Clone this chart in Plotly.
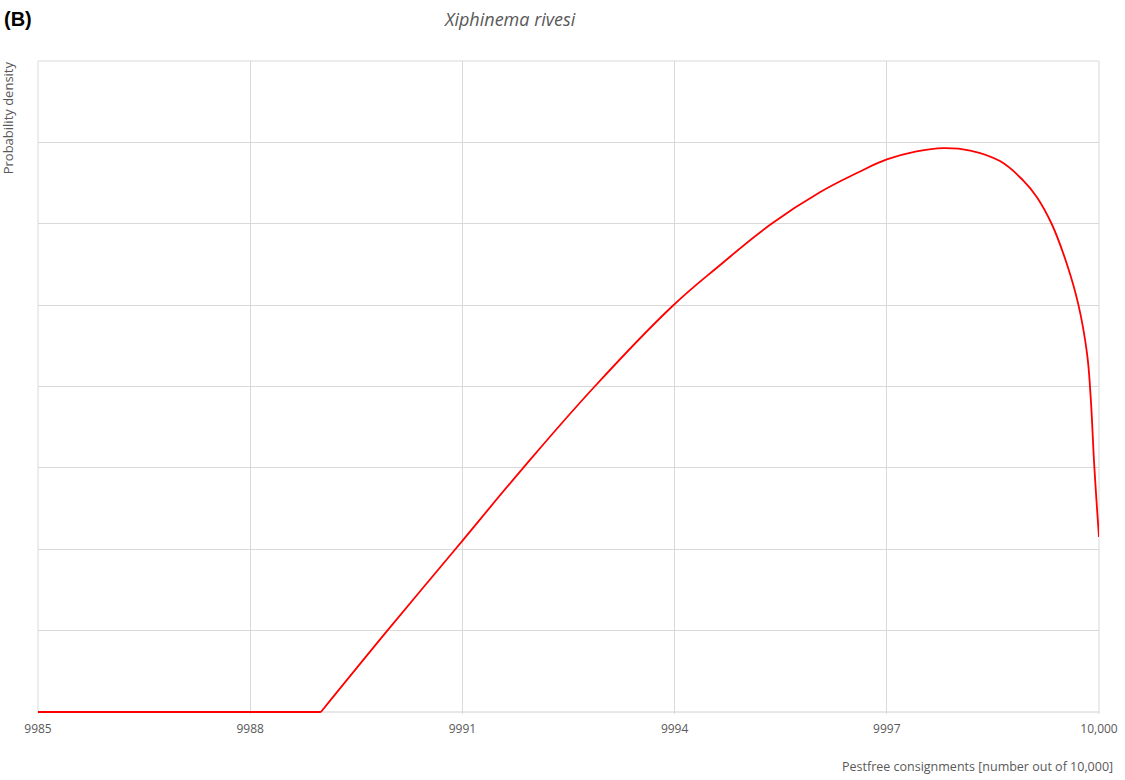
import plotly.graph_objects as go

# Data (y in gridline units; the y axis has no labels)
flat_x = [9985, 9989.0]
flat_y = [0, 0]
consignments = [9989.0, 9989.93, 9990.90, 9991.86, 9992.87, 9993.96, 9994.64,
                9995.37, 9996.06, 9996.57, 9997.0, 9997.42, 9997.80, 9998.18,
                9998.60, 9998.93, 9999.12, 9999.33, 9999.54, 9999.71, 9999.83,
                9999.88, 9999.935, 10000]
density = [0, 0.99, 2.00, 3.00, 4.00, 4.98, 5.49,
           6.00, 6.39, 6.62, 6.79, 6.89, 6.93, 6.90,
           6.77, 6.53, 6.33, 6.00, 5.52, 5.00, 4.41,
           3.90, 3.00, 2.15]

tick_vals = [9985, 9988, 9991, 9994, 9997, 10000]
tick_text = ["9985", "9988", "9991", "9994", "9997", "10,000"]

red = "#ff0000"
fig = go.Figure()
fig.add_trace(go.Scatter(
    x=flat_x, y=flat_y, mode="lines", line=dict(color=red, width=1.8),
    showlegend=False, hoverinfo="skip",
))
fig.add_trace(go.Scatter(
    x=consignments, y=density, mode="lines",
    line=dict(color=red, width=1.8, shape="spline", smoothing=1.2),
    showlegend=False, hoverinfo="skip",
))

grid = "#d9d9d9"
fig.update_layout(
    width=1125, height=780,
    margin=dict(l=38, r=26, t=61, b=66, autoexpand=False),
    paper_bgcolor="white", plot_bgcolor="white",
    font=dict(family="Open Sans, Lato, sans-serif", color="#595959", size=12),
    xaxis=dict(range=[9985, 10000], tickvals=tick_vals, ticktext=tick_text,
               showgrid=True, gridcolor=grid, gridwidth=1, zeroline=False,
               showline=False, ticks="", ticklabelstandoff=6, automargin=False,
               tickfont=dict(size=12, color="#595959")),
    yaxis=dict(range=[-0.0246, 8], tickvals=[1, 2, 3, 4, 5, 6, 7, 8],
               showticklabels=False,
               showgrid=True, gridcolor=grid, gridwidth=1, zeroline=False,
               showline=False, ticks="", automargin=False),
    annotations=[
        dict(text="<b>(B)</b>", xref="paper", yref="paper", x=-0.0335, y=1.065,
             xanchor="left", yanchor="middle", showarrow=False,
             font=dict(family="Liberation Sans, Arial, sans-serif", size=20, color="black")),
        dict(text="<i>Xiphinema rivesi</i>", xref="paper", yref="paper",
             x=0.4449, y=1.065, xanchor="center", yanchor="middle", showarrow=False,
             font=dict(family="Open Sans, sans-serif", size=18, color="#595959")),
        dict(text="Probability density", xref="paper", yref="paper",
             x=-0.0285, y=1.003, xanchor="center", yanchor="top", textangle=-90,
             showarrow=False, font=dict(size=13, color="#595959")),
        dict(text="Pestfree consignments [number out of 10,000]", xref="paper",
             yref="paper", x=1.0155, y=-0.081, xanchor="right", yanchor="middle",
             showarrow=False, font=dict(size=12.5, color="#595959")),
    ],
    shapes=[
        dict(type="line", xref="paper", yref="paper", x0=0, x1=1, y0=1, y1=1,
             line=dict(color=grid, width=1), layer="below"),
        dict(type="line", xref="paper", yref="paper", x0=0, x1=0, y0=0, y1=1,
             line=dict(color=grid, width=1), layer="below"),
        dict(type="line", xref="paper", yref="paper", x0=1, x1=1, y0=0, y1=1,
             line=dict(color=grid, width=1), layer="below"),
        dict(type="line", xref="paper", yref="y", x0=0, x1=1, y0=0, y1=0,
             line=dict(color="#d0d0d0", width=1), layer="below"),
    ],
)

fig.write_html(
    "out.html",
    config={"displayModeBar": False},
    post_script="document.body.style.margin='0px';document.body.style.overflow='hidden';",
)
